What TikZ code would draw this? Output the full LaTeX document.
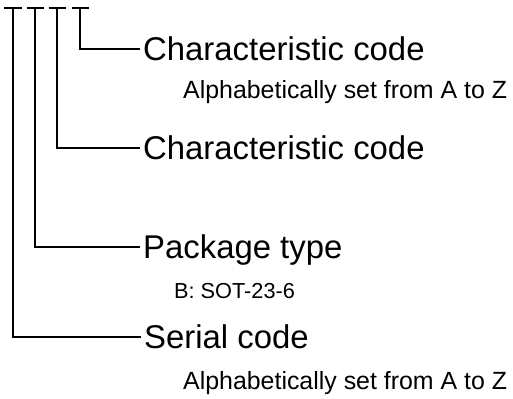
\documentclass[tikz,border=0pt]{standalone}
\usepackage{fontspec}
\setmainfont{Liberation Sans}
\usepackage{tikz}

\tikzset{
    tree/.style={line width=1.4bp, black},
    bigtext/.style={font=\fontsize{33}{36}\selectfont, text height=23.5bp, text depth=0pt, inner xsep=3bp, inner ysep=0pt, anchor=west},
    smalltext/.style={font=\fontsize{25}{29}\selectfont, inner sep=0pt, anchor=base west},
}

\begin{document}
\begin{tikzpicture}[x=1bp,y=1bp]
    \useasboundingbox (0,0) rectangle (513,398);

    % tops of the four digits
    \coordinate (t1) at (13,390);
    \coordinate (t2) at (35,390);
    \coordinate (t3) at (57,390);
    \coordinate (t4) at (80,390);
    \foreach \t in {t1,t2,t3,t4} \draw[tree] ([xshift=-8.5bp]\t) -- ([xshift=8.5bp]\t);

    \node[bigtext] (char1) at (140,349) {Characteristic code};
    \node[bigtext] (char2) at (140,250) {Characteristic code};
    \node[bigtext] (pack) at (140,151) {Package type};
    \node[bigtext] (serial) at (141,61) {Serial code};

    \node[smalltext] (char1note) at (183,300) {Alphabetically set from A to Z};
    \node[smalltext, font=\fontsize{21.8}{26}\selectfont] (packnote) at (174,100) {B: SOT-23-6};
    \node[smalltext] (serialnote) at (183,9) {Alphabetically set from A to Z};

    \draw[tree] (t4) |- (char1.west);
    \draw[tree] (t3) |- (char2.west);
    \draw[tree] (t2) |- (pack.west);
    \draw[tree] (t1) |- (serial.west);
\end{tikzpicture}
\end{document}
